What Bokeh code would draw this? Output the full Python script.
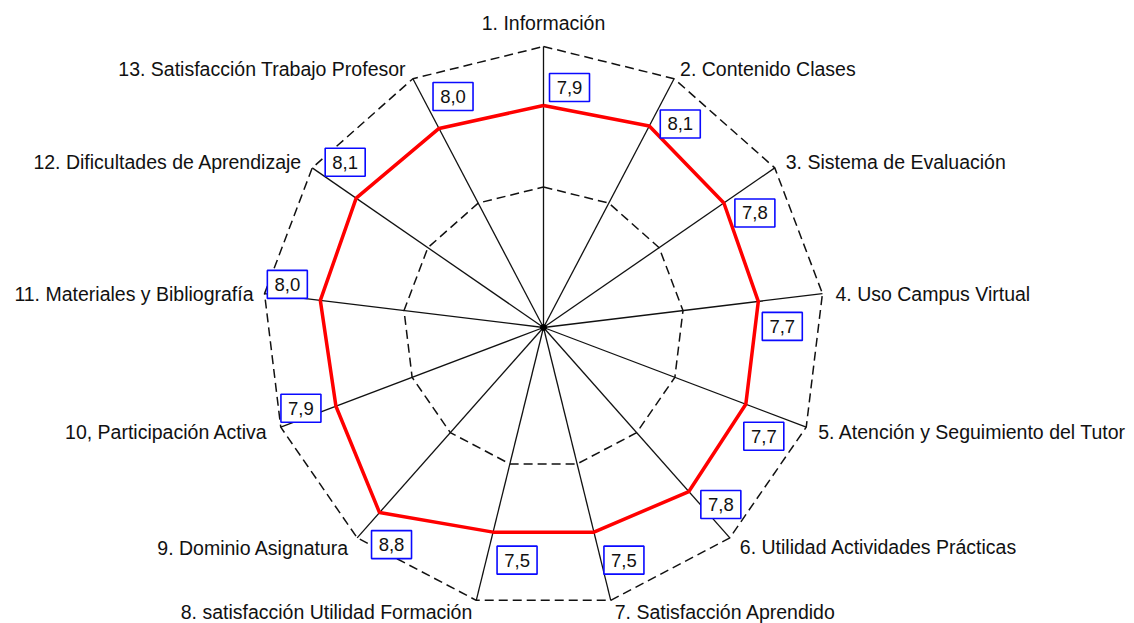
import numpy as np
from bokeh.plotting import figure
from bokeh.models import Range1d, ColumnDataSource
from bokeh.core.properties import value
from bokeh.embed import file_html
from bokeh.resources import INLINE

# ---- data ----
categories = [
    "1. Información",
    "2. Contenido Clases",
    "3. Sistema de Evaluación",
    "4. Uso Campus Virtual",
    "5. Atención y Seguimiento del Tutor",
    "6. Utilidad Actividades Prácticas",
    "7. Satisfacción Aprendido",
    "8. satisfacción Utilidad Formación",
    "9. Dominio Asignatura",
    "10, Participación Activa",
    "11. Materiales y Bibliografía",
    "12. Dificultades de Aprendizaje",
    "13. Satisfacción Trabajo Profesor",
]
scores = [7.9, 8.1, 7.8, 7.7, 7.7, 7.8, 7.5, 7.5, 8.8, 7.9, 8.0, 8.1, 8.0]
value_labels = ["7,9", "8,1", "7,8", "7,7", "7,7", "7,8", "7,5", "7,5", "8,8", "7,9", "8,0", "8,1", "8,0"]
ring_levels = [5, 10]
scale_max = 10

# ---- layout / style (pixels) ----
W, H = 1134, 623
S = 28.1            # pixels per unit
CX, CY = 543, 327   # centre in figure pixels
# value box offsets from the data point (dx right, dy down) in px
box_off = [(26, -18), (31, -2), (31, 10), (24, 25), (18, 32), (32, 13), (30, 28),
           (24, 28), (12, 32), (-35, 2), (-33, -16), (-11, -36), (14, -32)]
# category label offsets from outer vertex (dx right, dy down) in px and alignment
lab_off = [(0, -24), (6, -10), (11, -6), (13, 0), (12, 5), (10, 9), (4, 12),
           (-4, 12), (-8, 10), (-13, 5), (-11, 0), (-10, -6), (-7, -10)]
lab_align = ["center", "left", "left", "left", "left", "left", "left",
             "right", "right", "right", "right", "right", "right"]

n = len(categories)
ang = np.arange(n) * 2 * np.pi / n
sx, cy_ = np.sin(ang), np.cos(ang)

p = figure(width=W, height=H, output_backend="svg", toolbar_location=None,
           x_range=Range1d(-CX / S, (W - CX) / S),
           y_range=Range1d(-(H - CY) / S, CY / S),
           min_border=0, outline_line_color=None)
p.axis.visible = False
p.grid.visible = False
p.background_fill_color = "white"

# spokes
for i in range(n):
    p.line([0, scale_max * sx[i]], [0, scale_max * cy_[i]], line_color="#111111", line_width=1.3)

# dashed rings
for lv in ring_levels:
    xs = list(lv * sx) + [lv * sx[0]]
    ys = list(lv * cy_) + [lv * cy_[0]]
    p.line(xs, ys, line_color="#111111", line_width=1.5, line_dash="9 5")

# centre blob
p.scatter([0], [0], size=6, color="black")

# data polygon
vx = np.array(scores) * sx
vy = np.array(scores) * cy_
p.line(list(vx) + [vx[0]], list(vy) + [vy[0]], line_color="#ff0000", line_width=3.5)

# value boxes
bx = vx + np.array([o[0] for o in box_off]) / S
by = vy - np.array([o[1] for o in box_off]) / S
p.rect(bx, by, width=40, height=28, width_units="screen", height_units="screen",
       fill_color="white", line_color="#0a0aff", line_width=1.6)
p.text(bx, by, text=value_labels, text_align="center", text_baseline="middle",
       text_font=value("Liberation Sans"), text_font_size="18.5px", text_color="#111111")

# category labels
src = ColumnDataSource(dict(
    x=scale_max * sx, y=scale_max * cy_, t=categories,
    xo=[o[0] for o in lab_off], yo=[o[1] for o in lab_off], al=lab_align))
p.text("x", "y", text="t", x_offset="xo", y_offset="yo", text_align="al",
       text_baseline="middle", source=src,
       text_font=value("Liberation Sans"), text_font_size="19.5px", text_color="#111111")

open("out.html", "w").write(file_html(p, INLINE))
